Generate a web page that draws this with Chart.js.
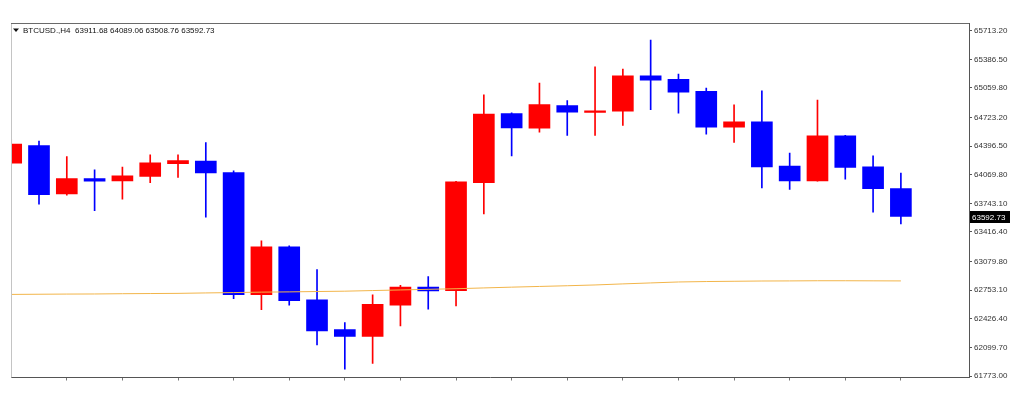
<!DOCTYPE html>
<html>
<head>
<meta charset="utf-8">
<script src="https://cdn.jsdelivr.net/npm/chart.js@4.4.1/dist/chart.umd.min.js"></script>
<style>
  html, body { margin: 0; padding: 0; background: #ffffff; }
  #wrap { width: 1024px; height: 402px; position: relative; }
</style>
</head>
<body>
<div id="wrap"><canvas id="c" width="1024" height="402"></canvas></div>
<script>
// ---- Data ----
const symbolLabel = "BTCUSD.,H4";
const lastBar = [63911.68, 64089.06, 63508.76, 63592.73];
const opens  = [64202, 64403, 63851, 64026, 64000, 64049, 64197, 64225, 64095, 62701, 63246, 62641, 62302, 62226, 62580, 62789, 62747, 63980, 64768, 64602, 64860, 64780, 64794, 65199, 65157, 65020, 64613, 64674, 64168, 64000, 64514, 64160, 63911.68];
const highs  = [64480, 64453, 64277, 64126, 64156, 64297, 64297, 64437, 64114, 63315, 63258, 62987, 62382, 62698, 62809, 62907, 63995, 64982, 64776, 65116, 64917, 65302, 65276, 65607, 65218, 65059, 64868, 65028, 64316, 64922, 64520, 64285, 64089.06];
const lows   = [64183, 63734, 63837, 63661, 63791, 63980, 64038, 63585, 62656, 62530, 62580, 62127, 61850, 61918, 62344, 62535, 62572, 63623, 64285, 64556, 64517, 64517, 64631, 64811, 64773, 64533, 64437, 63920, 63901, 63995, 64019, 63642, 63508.76];
const closes = [64419, 63843, 64026, 63996, 64057, 64205, 64232, 64091, 62701, 63246, 62633, 62287, 62226, 62592, 62789, 62744, 63988, 64762, 64605, 64871, 64784, 64799, 65199, 65150, 65013, 64613, 64674, 64160, 64000, 64514, 64152, 63912, 63592.73];
const maValues = [62704, 62706, 62708, 62709, 62712, 62714, 62716, 62721, 62725, 62730, 62733, 62737, 62741, 62748, 62755, 62762, 62769, 62778, 62787, 62795, 62803, 62812, 62824, 62835, 62846, 62851, 62854, 62857, 62858, 62860, 62860, 62859, 62858];
const yTickValues = [61773.00, 62099.70, 62426.40, 62753.10, 63079.80, 63416.40, 63743.10, 64069.80, 64396.50, 64723.20, 65059.80, 65386.50, 65713.20];
const xTickIndices = [2, 4, 6, 8, 10, 12, 14, 16, 18, 20, 22, 24, 26, 28, 30, 32];

// ---- Build datasets ----
const UP = '#ff0000', DOWN = '#0000ff';
const idx = opens.map((_, i) => i);
const bodyData = idx.map(i => ({ x: i, y: [opens[i], closes[i]] }));
const wickData = idx.map(i => ({ x: i, y: [lows[i], highs[i]] }));
const maData = idx.map(i => ({ x: i, y: maValues[i] }));
const colorOf = ctx => {
  const i = ctx.dataIndex;
  return closes[i] >= opens[i] ? UP : DOWN;
};

const FONT = "'Liberation Sans', Arial, sans-serif";

const framePlugin = {
  id: 'frame',
  afterDatasetsDraw(chart) {
    const { ctx, chartArea: a } = chart;
    ctx.save();
    ctx.lineWidth = 1;
    ctx.strokeStyle = '#c4c4c4';
    ctx.beginPath();
    ctx.moveTo(Math.round(a.left) + 0.5, a.top);
    ctx.lineTo(Math.round(a.left) + 0.5, a.bottom);
    ctx.stroke();
    ctx.strokeStyle = '#6a6a6a';
    ctx.beginPath();
    ctx.moveTo(a.left, Math.round(a.top) + 0.5);
    ctx.lineTo(a.right, Math.round(a.top) + 0.5);
    ctx.stroke();
    ctx.restore();
  },
  afterDraw(chart) {
    const { ctx, scales } = chart;
    ctx.save();
    ctx.fillStyle = '#111';
    ctx.font = '8px ' + FONT;
    ctx.textBaseline = 'middle';
    ctx.beginPath();
    ctx.moveTo(13, 28.5); ctx.lineTo(19, 28.5); ctx.lineTo(16, 32);
    ctx.closePath(); ctx.fill();
    const txt = symbolLabel + '  ' + lastBar.map(v => v.toFixed(2)).join(' ');
    ctx.fillText(txt, 23, 30.5);
    const yc = scales.y.getPixelForValue(lastBar[3]);
    ctx.fillStyle = '#000';
    ctx.fillRect(970, Math.round(yc) - 6, 40, 12);
    ctx.fillStyle = '#fff';
    ctx.textAlign = 'left';
    ctx.fillText(lastBar[3].toFixed(2), 972, Math.round(yc) + 0.5);
    ctx.restore();
  }
};

new Chart(document.getElementById('c'), {
  data: {
    datasets: [
      {
        type: 'line', label: 'MA', data: maData, order: 0,
        borderColor: '#f2b54a', borderWidth: 1, pointRadius: 0, tension: 0, fill: false
      },
      {
        type: 'bar', label: 'body', data: bodyData, order: 1, grouped: false,
        barThickness: 21, backgroundColor: colorOf, borderWidth: 0, borderSkipped: false
      },
      {
        type: 'bar', label: 'wick', data: wickData, order: 2, grouped: false,
        barThickness: 1, backgroundColor: colorOf, borderWidth: 0, borderSkipped: false
      }
    ]
  },
  options: {
    responsive: false,
    animation: false,
    events: [],
    layout: { padding: { top: 23, left: 11, right: 0, bottom: 0 } },
    plugins: { legend: { display: false }, tooltip: { enabled: false } },
    scales: {
      x: {
        type: 'linear', min: -0.007, max: 34.45, offset: false,
        afterFit: s => { s.height = 24.5; },
        afterBuildTicks: s => { s.ticks = xTickIndices.map(v => ({ value: v })); },
        ticks: { display: false },
        grid: { display: true, offset: false, drawOnChartArea: false, drawTicks: true, tickLength: 3, color: '#777' },
        border: { display: true, color: '#555', width: 1 }
      },
      y: {
        type: 'linear', position: 'right', min: 61756, max: 65801,
        afterFit: s => { s.width = 55; },
        afterBuildTicks: s => { s.ticks = yTickValues.map(v => ({ value: v })); },
        ticks: {
          font: { family: FONT, size: 8 }, color: '#333', padding: 2,
          callback: v => Number(v).toFixed(2)
        },
        grid: { display: true, offset: false, drawOnChartArea: false, drawTicks: true, tickLength: 3, color: '#555' },
        border: { display: true, color: '#555', width: 1 }
      }
    }
  },
  plugins: [framePlugin]
});
</script>
</body>
</html>
